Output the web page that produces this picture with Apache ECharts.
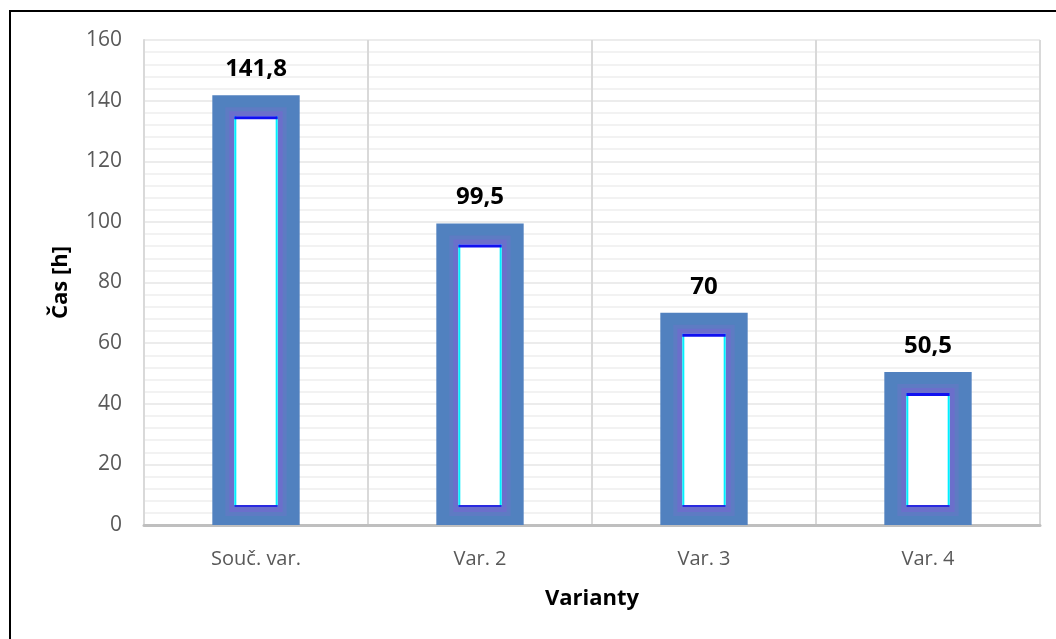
<!DOCTYPE html>
<html>
<head>
<meta charset="utf-8">
<script src="https://cdn.jsdelivr.net/npm/echarts@6/dist/echarts.min.js"></script>
<style>html,body{margin:0;padding:0;background:#fff;}#c{width:1056px;height:639px;}</style>
</head>
<body>
<div id="c"></div>
<script>
const categories = ['Souč. var.', 'Var. 2', 'Var. 3', 'Var. 4'];
const values = [141.8, 99.5, 70, 50.5];
const yTicks = [0, 20, 40, 60, 80, 100, 120, 140, 160];

const chart = echarts.init(document.getElementById('c'));

function renderBar(params, api) {
  const idx = api.value(0);
  const v = api.value(1);
  const top = api.coord([idx, v]);
  const base = api.coord([idx, 0]);
  const band = api.size([1, 0])[0];
  const w = band * 0.39;
  const x0 = top[0] - w / 2;
  const y0 = top[1];
  const h = base[1] - top[1];
  const side = 22, tInset = 21, bInset = 18;
  const ix = x0 + side, iy = y0 + tInset, iw = w - 2 * side, ih = h - tInset - bInset;
  const label = String(v).replace('.', ',');
  return {
    type: 'group',
    children: [
      { type: 'rect', shape: { x: x0, y: y0, width: w, height: h }, style: { fill: '#5181bf' } },
      { type: 'rect', shape: { x: ix - 9, y: iy - 9, width: iw + 18, height: ih + 18 }, style: { fill: '#6a76c6', opacity: 0.55 } },
      { type: 'rect', shape: { x: ix - 5, y: iy - 5, width: iw + 10, height: ih + 10 }, style: { fill: '#7468d0', opacity: 0.6 } },
      { type: 'rect', shape: { x: ix, y: iy, width: iw, height: ih }, style: { fill: '#ffffff' } },
      { type: 'rect', shape: { x: ix, y: iy, width: 2, height: ih }, style: { fill: '#00f0ff' } },
      { type: 'rect', shape: { x: ix + iw - 2, y: iy, width: 2, height: ih }, style: { fill: '#00f0ff' } },
      { type: 'rect', shape: { x: ix, y: iy, width: iw, height: 3 }, style: { fill: '#1010f0' } },
      { type: 'rect', shape: { x: ix, y: iy + ih - 2, width: iw, height: 2 }, style: { fill: '#2a2ae0' } },
      { type: 'text', style: { x: top[0], y: y0 - 14, text: label, align: 'center', verticalAlign: 'bottom',
          fill: '#000', font: 'bold 24px "Open Sans", sans-serif' } }
    ]
  };
}

chart.setOption({
  animation: false,
  backgroundColor: '#ffffff',
  grid: { left: 144, right: 16, top: 40, bottom: 114 },
  xAxis: {
    type: 'category',
    data: categories,
    name: 'Varianty',
    nameLocation: 'middle',
    nameGap: 63,
    nameTextStyle: { fontFamily: 'Open Sans', fontWeight: 'bold', fontSize: 22, color: '#000' },
    axisLine: { show: true, lineStyle: { color: '#bfbfbf', width: 3 } },
    axisTick: { show: false },
    axisLabel: { fontFamily: 'Open Sans', fontSize: 20, color: '#595959', margin: 24 },
    splitLine: { show: true, lineStyle: { color: '#d9d9d9', width: 2 } }
  },
  yAxis: {
    type: 'value',
    min: 0, max: 160, interval: 20,
    name: 'Čas [h]',
    nameLocation: 'middle',
    nameGap: 72,
    nameRotate: 90,
    nameTextStyle: { fontFamily: 'Open Sans', fontWeight: 'bold', fontSize: 22, color: '#000' },
    axisLine: { show: true, lineStyle: { color: '#d9d9d9', width: 2 } },
    axisTick: { show: false },
    axisLabel: { fontFamily: 'Open Sans', fontSize: 21, color: '#595959', margin: 22,
      formatter: v => yTicks.includes(v) ? String(v) : '' },
    splitLine: { show: true, lineStyle: { color: '#ececec', width: 2 } },
    minorTick: { show: false, splitNumber: 5 },
    minorSplitLine: { show: true, lineStyle: { color: '#f2f2f2', width: 2 } }
  },
  series: [{
    type: 'custom',
    renderItem: renderBar,
    encode: { x: 0, y: 1 },
    data: values.map((v, i) => [i, v]),
    clip: false,
    z: 5
  }],
  graphic: [{
    type: 'rect',
    shape: { x: 10, y: 11, width: 1100, height: 700 },
    style: { fill: 'none', stroke: '#000', lineWidth: 2 },
    z: 100
  }]
});
</script>
</body>
</html>
